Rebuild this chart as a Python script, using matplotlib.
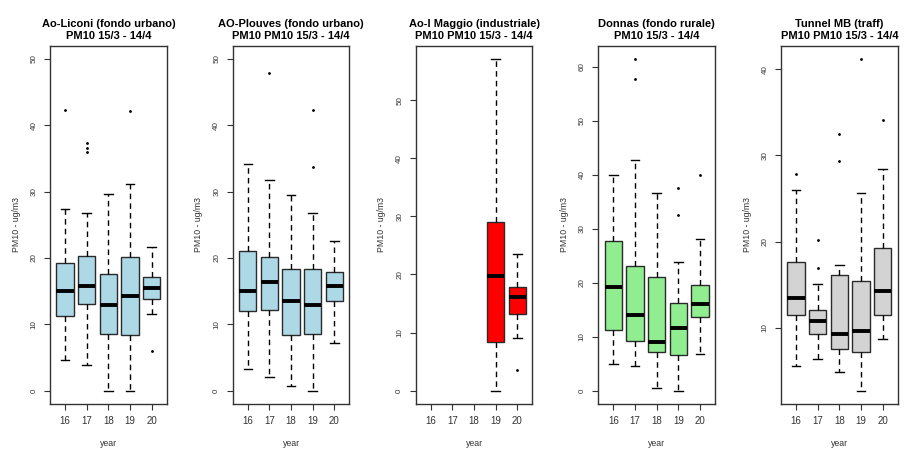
import matplotlib
matplotlib.use("Agg")
import matplotlib.pyplot as plt

plt.rcParams['font.family'] = ['Liberation Sans', 'DejaVu Sans']

years = ["16", "17", "18", "19", "20"]

titles = [
    "Ao-Liconi (fondo urbano)\nPM10 15/3 - 14/4",
    "AO-Plouves (fondo urbano)\nPM10 PM10 15/3 - 14/4",
    "Ao-I Maggio (industriale)\nPM10 PM10 15/3 - 14/4",
    "Donnas (fondo rurale)\nPM10 15/3 - 14/4",
    "Tunnel MB (traff)\nPM10 PM10 15/3 - 14/4",
]
colors = ["#ADD8E6", "#ADD8E6", "#FF0000", "#90EE90", "#D3D3D3"]

# Per-station statistics for years 16..20 (None = no data)
liconi_med = [15.0, 15.7, 12.9, 14.3, 15.5]
liconi_q1 = [11.3, 13.1, 8.6, 8.4, 13.8]
liconi_q3 = [19.3, 20.3, 17.6, 20.2, 17.1]
liconi_lo = [4.7, 3.9, 0.0, 0.0, 11.5]
liconi_hi = [27.4, 26.7, 29.7, 31.2, 21.7]
liconi_out = [[42.3], [35.9, 36.6, 37.3], [], [42.1], [6.0]]

plouves_med = [15.0, 16.4, 13.5, 12.9, 15.7]
plouves_q1 = [12.0, 12.2, 8.4, 8.6, 13.5]
plouves_q3 = [21.0, 20.2, 18.3, 18.3, 17.9]
plouves_lo = [3.3, 2.0, 0.7, 0.0, 7.2]
plouves_hi = [34.1, 31.7, 29.5, 26.8, 22.6]
plouves_out = [[], [47.8], [], [33.7, 42.3], []]

maggio_med = [None, None, None, 19.8, 16.1]
maggio_q1 = [None, None, None, 8.35, 13.25]
maggio_q3 = [None, None, None, 29.0, 17.9]
maggio_lo = [None, None, None, 0.0, 9.1]
maggio_hi = [None, None, None, 57.1, 23.6]
maggio_out = [[], [], [], [], [3.6]]

donnas_med = [19.2, 14.1, 9.0, 11.7, 16.0]
donnas_q1 = [11.3, 9.2, 7.2, 6.6, 13.6]
donnas_q3 = [27.7, 23.2, 21.1, 16.3, 19.6]
donnas_lo = [4.9, 4.5, 0.5, 0.0, 6.8]
donnas_hi = [40.0, 42.7, 36.7, 23.8, 28.1]
donnas_out = [[], [57.8, 61.5], [], [32.6, 37.6], [40.0]]

tunnel_med = [13.5, 10.8, 9.3, 9.6, 14.3]
tunnel_q1 = [11.5, 9.3, 7.5, 7.2, 11.5]
tunnel_q3 = [17.6, 12.1, 16.1, 15.4, 19.2]
tunnel_lo = [5.6, 6.4, 4.9, 2.7, 8.7]
tunnel_hi = [26.0, 15.1, 17.3, 25.6, 28.4]
tunnel_out = [[27.8], [16.9, 20.2], [29.3, 32.5], [41.2], [34.1]]

stations = [
    (liconi_med, liconi_q1, liconi_q3, liconi_lo, liconi_hi, liconi_out),
    (plouves_med, plouves_q1, plouves_q3, plouves_lo, plouves_hi, plouves_out),
    (maggio_med, maggio_q1, maggio_q3, maggio_lo, maggio_hi, maggio_out),
    (donnas_med, donnas_q1, donnas_q3, donnas_lo, donnas_hi, donnas_out),
    (tunnel_med, tunnel_q1, tunnel_q3, tunnel_lo, tunnel_hi, tunnel_out),
]
yticks_list = [
    [0, 10, 20, 30, 40, 50],
    [0, 10, 20, 30, 40, 50],
    [0, 10, 20, 30, 40, 50],
    [0, 10, 20, 30, 40, 50, 60],
    [10, 20, 30, 40],
]
ylims = [(-2, 52), (-2, 52), (-2.3, 59.4), (-2.46, 63.96), (1.16, 42.74)]

W, H = 906, 450
fig = plt.figure(figsize=(W / 100, H / 100), dpi=100)
lefts = [50, 232.7, 415.7, 598.3, 781]
axw = 116.7
top_px, bot_px = 45.5, 404

txtcol = "#333333"
for i, (st, title, col) in enumerate(zip(stations, titles, colors)):
    ax = fig.add_axes([lefts[i] / W, (H - bot_px) / H, axw / W, (bot_px - top_px) / H])
    med, q1, q3, lo, hi, out = st
    stats = []
    pos = []
    for j in range(len(years)):
        if med[j] is None:
            continue
        stats.append(dict(med=med[j], q1=q1[j], q3=q3[j], whislo=lo[j], whishi=hi[j], fliers=out[j]))
        pos.append(j + 1)
    ax.bxp(stats, positions=pos, widths=0.8, patch_artist=True, showfliers=True,
           boxprops=dict(facecolor=col, edgecolor="#2a2a2a", linewidth=1.0),
           medianprops=dict(color="black", linewidth=2.8, solid_capstyle="butt"),
           whiskerprops=dict(color="black", linewidth=1.0, linestyle=(0, (4, 3))),
           capprops=dict(color="black", linewidth=1.0),
           capwidths=0.4,
           flierprops=dict(marker="o", markersize=1.0, markerfacecolor="black",
                           markeredgecolor="black", linestyle="none"))
    ax.set_xlim(0.3, 5.7)
    ax.set_ylim(*ylims[i])
    ax.set_xticks(range(1, 6))
    ax.set_xticklabels(years)
    ax.set_yticks(yticks_list[i])
    ax.set_yticklabels([str(v) for v in yticks_list[i]], rotation=90, va="center")
    ax.tick_params(axis="both", length=4, width=0.8, color="#333333", labelcolor=txtcol)
    ax.tick_params(axis="y", pad=5, labelsize=5.8)
    ax.tick_params(axis="x", pad=5, labelsize=7)
    for s in ax.spines.values():
        s.set_color("#333333")
        s.set_linewidth(1.0)
    ax.set_title(title, fontsize=8, fontweight="bold", pad=5, linespacing=1.15)
    ax.set_xlabel("year", fontsize=6.3, color=txtcol, labelpad=9)
    ax.set_ylabel("PM10 - ug/m3", fontsize=6.3, color=txtcol, labelpad=7)

fig.savefig("out.png", dpi=100)
